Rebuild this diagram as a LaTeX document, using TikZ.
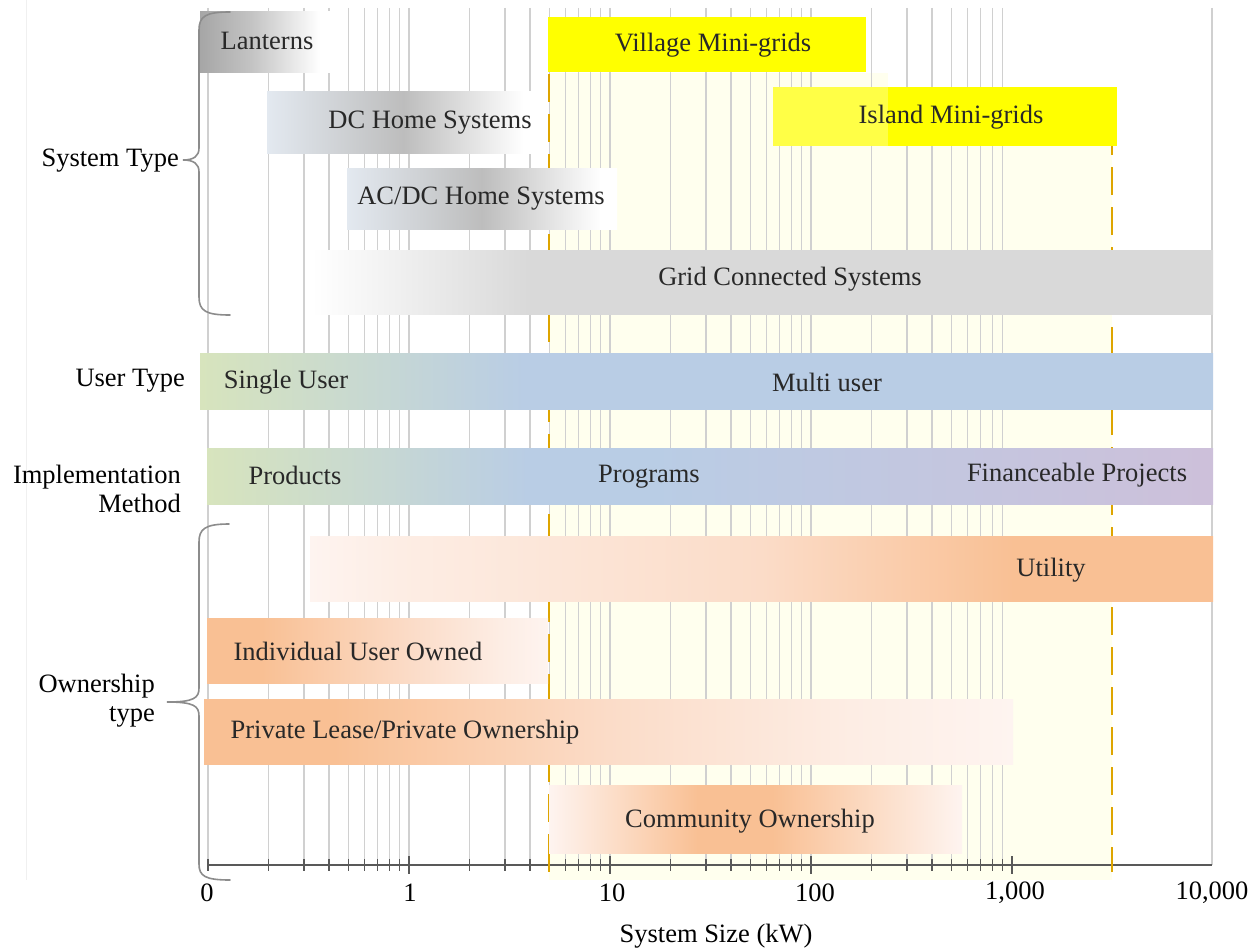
\documentclass[tikz,border=0pt]{standalone}
\usepackage{fontspec}
\setmainfont{Liberation Serif}

% palette
\definecolor{gridgrey}{RGB}{208,208,208}
\definecolor{axisgrey}{RGB}{89,89,89}
\definecolor{bracegrey}{RGB}{140,140,140}
\definecolor{paleyellow}{RGB}{255,255,238}
\definecolor{markgold}{RGB}{222,165,0}
\definecolor{brightyellow}{RGB}{255,255,0}
\definecolor{softyellow}{RGB}{255,255,70}
\definecolor{lanternA}{RGB}{166,166,166}
\definecolor{lanternB}{RGB}{196,196,196}
\definecolor{homeA}{RGB}{227,233,240}
\definecolor{homeB}{RGB}{189,189,189}
\definecolor{gridbar}{RGB}{217,217,217}
\definecolor{greenA}{RGB}{215,228,189}
\definecolor{blueB}{RGB}{185,205,229}
\definecolor{purpleC}{RGB}{205,192,218}
\definecolor{orangeA}{RGB}{249,192,148}
\definecolor{orangeM}{RGB}{251,220,200}
\definecolor{orangeL}{RGB}{253,237,228}
\definecolor{orangeW}{RGB}{254,244,240}
\definecolor{labeltext}{RGB}{40,40,40}

% horizontal colour ramps (the 25bp..75bp band spans the filled box)
\pgfdeclarehorizontalshading{lanternramp}{100bp}{color(0bp)=(lanternA); color(25bp)=(lanternA); color(45bp)=(lanternB); color(71bp)=(white); color(100bp)=(white)}
\pgfdeclarehorizontalshading{homeramp}{100bp}{color(0bp)=(homeA); color(25bp)=(homeA); color(50bp)=(homeB); color(72bp)=(white); color(100bp)=(white)}
\pgfdeclarehorizontalshading{gridramp}{100bp}{color(0bp)=(white); color(25bp)=(white); color(37bp)=(gridbar); color(100bp)=(gridbar)}
\pgfdeclarehorizontalshading{userramp}{100bp}{color(0bp)=(greenA); color(25bp)=(greenA); color(41bp)=(blueB); color(100bp)=(blueB)}
\pgfdeclarehorizontalshading{implramp}{100bp}{color(0bp)=(greenA); color(25bp)=(greenA); color(41bp)=(blueB); color(47bp)=(blueB); color(75bp)=(purpleC); color(100bp)=(purpleC)}
\pgfdeclarehorizontalshading{utilityramp}{100bp}{color(0bp)=(orangeW); color(25bp)=(orangeW); color(30bp)=(orangeL); color(50bp)=(orangeM); color(64bp)=(orangeA); color(100bp)=(orangeA)}
\pgfdeclarehorizontalshading{ownerramp}{100bp}{color(0bp)=(orangeA); color(25bp)=(orangeA); color(33bp)=(orangeA); color(55bp)=(orangeM); color(68bp)=(orangeL); color(75bp)=(orangeW); color(100bp)=(orangeW)}
\pgfdeclarehorizontalshading{leaseramp}{100bp}{color(0bp)=(orangeA); color(25bp)=(orangeA); color(33bp)=(orangeA); color(50bp)=(orangeM); color(65bp)=(orangeL); color(75bp)=(orangeW); color(100bp)=(orangeW)}
\pgfdeclarehorizontalshading{communityramp}{100bp}{color(0bp)=(orangeW); color(25bp)=(orangeW); color(43bp)=(orangeA); color(52bp)=(orangeA); color(75bp)=(orangeW); color(100bp)=(orangeW)}

\begin{document}
\begin{tikzpicture}[x=1pt,y=-1pt,
  gridline/.style={draw=gridgrey,line width=1.2pt},
  axisline/.style={draw=axisgrey,line width=1.5pt},
  tickline/.style={draw=axisgrey,line width=1.2pt},
  marker/.style={draw=markgold,line width=2.6pt,dash pattern=on 28pt off 12pt},
  bracket/.style={draw=bracegrey,line width=1.6pt,line cap=round},
  bartext/.style={text=labeltext,font=\fontsize{26.5}{30}\selectfont,inner sep=0pt},
  sidetext/.style={text=black,font=\fontsize{26.5}{29}\selectfont,inner sep=0pt,align=right,anchor=east},
  ticktext/.style={text=black,font=\fontsize{26.5}{30}\selectfont,inner sep=0pt}]

\useasboundingbox (0,0) rectangle (1257,950);
\fill[white] (0,0) rectangle (1257,950);

% faint frame line at the far left
\draw[black!6,line width=1pt] (26,0) -- (26,880);

% highlighted mini-grid size range
\fill[paleyellow] (549,73) rectangle (888,880);
\fill[paleyellow] (549,87) rectangle (1112,880);

% logarithmic grid, 0.1 kW to 10,000 kW
\foreach \d in {0,...,3}{
  \foreach \m in {1,...,9}{
    \pgfmathsetmacro\gx{208+201*\d+201*0.4342945*ln(\m)}
    \draw[gridline] (\gx,8) -- (\gx,865);
  }
}
\draw[gridline] (1212,8) -- (1212,865);

% size-range boundaries
\draw[marker] (549,74) -- (549,872);
\draw[marker] (1112,87) -- (1112,872);

% ---- system type bars ----
\shade[shading=lanternramp] (200,12) rectangle (330,72);
\node[bartext] (lanterns) at (267,41) {Lanterns};

\fill[brightyellow] (548,17) rectangle (866,72);
\node[bartext] (village) at (713,45) {Village Mini-grids};

\shade[shading=homeramp] (267,91) rectangle (540,153);
\node[bartext] (dchome) at (430,123) {DC Home Systems};

\fill[softyellow] (773,87) rectangle (888,146);
\fill[brightyellow] (888,87) rectangle (1117,146);
\node[bartext] (island) at (951,117) {Island Mini-grids};

\shade[shading=homeramp] (347,168) rectangle (617,229);
\node[bartext] (acdchome) at (481,199) {AC/DC Home Systems};

\shade[shading=gridramp] (312,250) rectangle (1213,314);
\node[bartext] (gridconn) at (790,279) {Grid Connected Systems};

% ---- user type ----
\shade[shading=userramp] (200,353) rectangle (1213,409);
\node[bartext] (single) at (286,382) {Single User};
\node[bartext] (multi) at (827,382) {Multi user};

% ---- implementation method ----
\shade[shading=implramp] (207,448) rectangle (1213,504);
\node[bartext] (products) at (295,475) {Products};
\node[bartext] (programs) at (649,477) {Programs};
\node[bartext] (finance) at (1077,475) {Financeable Projects};

% ---- ownership type ----
\shade[shading=utilityramp] (310,536) rectangle (1213,601);
\node[bartext] (utility) at (1051,570) {Utility};

\shade[shading=ownerramp] (207,618) rectangle (548,683);
\node[bartext] (individual) at (358,651) {Individual User Owned};

\shade[shading=leaseramp] (204,699) rectangle (1013,764);
\node[bartext] (lease) at (405,732) {Private Lease/Private Ownership};

\shade[shading=communityramp] (549,785) rectangle (962,853);
\node[bartext] (community) at (750,821) {Community Ownership};

% ---- category labels and brackets ----
\node[sidetext] (systype) at (179,161) {System Type};
\draw[bracket] (230,12) .. controls (206,12) and (199,16) .. (199,30) -- (199,148)
  .. controls (199,156) and (194,160) .. (183,160)
  .. controls (194,160) and (199,164) .. (199,172) -- (199,297)
  .. controls (199,311) and (206,315) .. (230,315);

\node[sidetext] (usertype) at (185,381) {User Type};
\node[sidetext] (implmethod) at (181,489) {Implementation\\Method};

\node[sidetext] (ownertype) at (155,701) {Ownership\\type};
\draw[bracket] (229,524) .. controls (205,524) and (199,529) .. (199,542) -- (199,688)
  .. controls (199,698) and (194,702) .. (167,702)
  .. controls (194,702) and (199,706) .. (199,716) -- (199,864)
  .. controls (199,876) and (205,880) .. (230,880);

% ---- axis ----
\draw[axisline] (207,865) -- (1212,865);
\foreach \d in {0,...,3}{
  \foreach \m in {2,...,9}{
    \pgfmathsetmacro\tx{208+201*\d+201*0.4342945*ln(\m)}
    \draw[tickline] (\tx,859) -- (\tx,871);
  }
}
\draw[tickline] (208,859) -- (208,871);
\foreach \d in {1,...,4}{
  \pgfmathsetmacro\tx{208+201*\d}
  \draw[tickline,line width=1.6pt] (\tx,856) -- (\tx,874);
}
\draw[draw=markgold,line width=2.6pt] (549,855) -- (549,872);
\draw[draw=markgold,line width=2.6pt] (1112,855) -- (1112,872);

\node[ticktext] (t0) at (207,893) {0};
\node[ticktext] (t1) at (410,893) {1};
\node[ticktext] (t10) at (612,893) {10};
\node[ticktext] (t100) at (815,893) {100};
\node[ticktext] (t1000) at (1015,893) {1,000};
\node[ticktext] (t10000) at (1212,893) {10,000};
\node[ticktext] (axistitle) at (716,936) {System Size (kW)};
\end{tikzpicture}
\end{document}
